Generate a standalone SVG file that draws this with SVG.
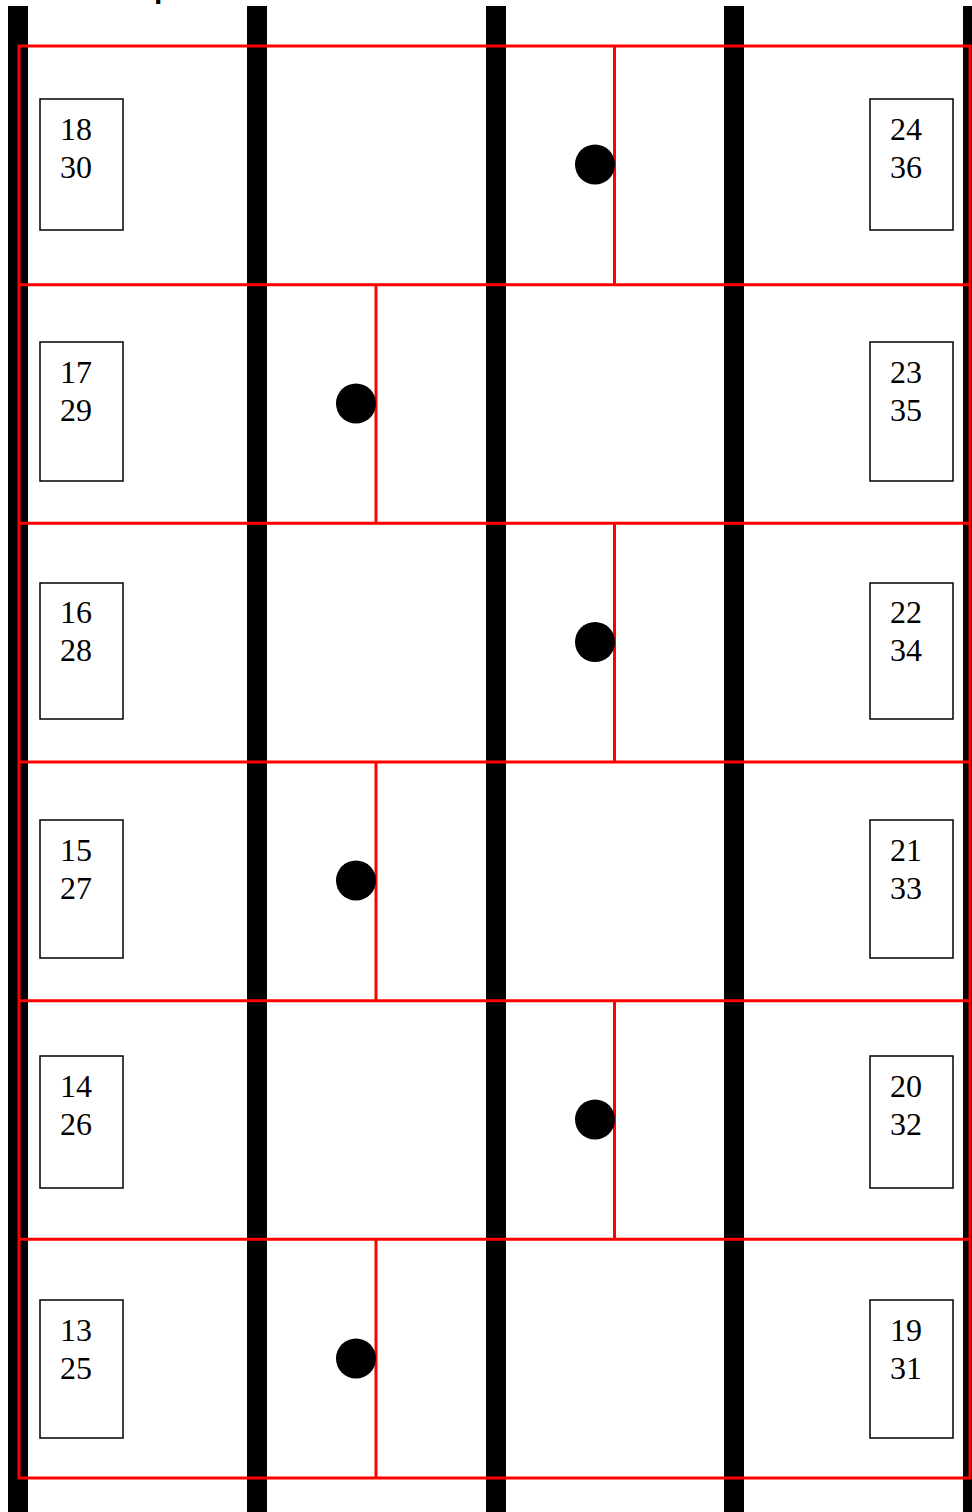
<svg xmlns="http://www.w3.org/2000/svg" width="972" height="1512" viewBox="0 0 972 1512">
<style>
.bar{fill:#000}
.red{stroke:#ff0000;stroke-width:3;fill:none}
.box{fill:#fff;stroke:#000;stroke-width:1.5}
.num{font-family:"Liberation Serif","Times New Roman",serif;font-size:32px;fill:#000}
.dot{fill:#000}
</style>
<rect width="972" height="1512" fill="#fff"/>
<text x="154" y="-2" font-family="Liberation Sans, Arial, sans-serif" font-size="30" font-weight="bold" fill="#000">p</text>
<g id="bars">
<rect class="bar" x="8" y="6" width="20" height="1506"/>
<rect class="bar" x="247" y="6" width="20" height="1506"/>
<rect class="bar" x="486" y="6" width="20" height="1506"/>
<rect class="bar" x="724" y="6" width="20" height="1506"/>
<rect class="bar" x="963" y="6" width="20" height="1506"/>
</g>
<g id="connectors">
<rect class="red" x="19" y="46" width="951" height="1432"/>
<line class="red" x1="19" y1="284.7" x2="970" y2="284.7"/>
<line class="red" x1="19" y1="523.3" x2="970" y2="523.3"/>
<line class="red" x1="19" y1="762" x2="970" y2="762"/>
<line class="red" x1="19" y1="1000.7" x2="970" y2="1000.7"/>
<line class="red" x1="19" y1="1239.3" x2="970" y2="1239.3"/>
<line class="red" x1="614.5" y1="46" x2="614.5" y2="284.7"/>
<line class="red" x1="376" y1="284.7" x2="376" y2="523.3"/>
<line class="red" x1="614.5" y1="523.3" x2="614.5" y2="762"/>
<line class="red" x1="376" y1="762" x2="376" y2="1000.7"/>
<line class="red" x1="614.5" y1="1000.7" x2="614.5" y2="1239.3"/>
<line class="red" x1="376" y1="1239.3" x2="376" y2="1478"/>
</g>
<g id="dots">
<circle class="dot" cx="595" cy="164.5" r="20"/>
<circle class="dot" cx="356" cy="403.5" r="20"/>
<circle class="dot" cx="595" cy="642" r="20"/>
<circle class="dot" cx="356" cy="880.5" r="20"/>
<circle class="dot" cx="595" cy="1119.5" r="20"/>
<circle class="dot" cx="356" cy="1358.5" r="20"/>
</g>
<g id="L18"><rect class="box" x="40" y="99" width="83" height="131"/><text class="num" x="60" y="140">18</text><text class="num" x="60" y="178">30</text></g>
<g id="R24"><rect class="box" x="870" y="99" width="83" height="131"/><text class="num" x="890" y="140">24</text><text class="num" x="890" y="178">36</text></g>
<g id="L17"><rect class="box" x="40" y="342" width="83" height="139"/><text class="num" x="60" y="383">17</text><text class="num" x="60" y="421">29</text></g>
<g id="R23"><rect class="box" x="870" y="342" width="83" height="139"/><text class="num" x="890" y="383">23</text><text class="num" x="890" y="421">35</text></g>
<g id="L16"><rect class="box" x="40" y="583" width="83" height="136"/><text class="num" x="60" y="623">16</text><text class="num" x="60" y="661">28</text></g>
<g id="R22"><rect class="box" x="870" y="583" width="83" height="136"/><text class="num" x="890" y="623">22</text><text class="num" x="890" y="661">34</text></g>
<g id="L15"><rect class="box" x="40" y="820" width="83" height="138"/><text class="num" x="60" y="861">15</text><text class="num" x="60" y="899">27</text></g>
<g id="R21"><rect class="box" x="870" y="820" width="83" height="138"/><text class="num" x="890" y="861">21</text><text class="num" x="890" y="899">33</text></g>
<g id="L14"><rect class="box" x="40" y="1056" width="83" height="132"/><text class="num" x="60" y="1097">14</text><text class="num" x="60" y="1135">26</text></g>
<g id="R20"><rect class="box" x="870" y="1056" width="83" height="132"/><text class="num" x="890" y="1097">20</text><text class="num" x="890" y="1135">32</text></g>
<g id="L13"><rect class="box" x="40" y="1300" width="83" height="138"/><text class="num" x="60" y="1341">13</text><text class="num" x="60" y="1379">25</text></g>
<g id="R19"><rect class="box" x="870" y="1300" width="83" height="138"/><text class="num" x="890" y="1341">19</text><text class="num" x="890" y="1379">31</text></g>
</svg>
